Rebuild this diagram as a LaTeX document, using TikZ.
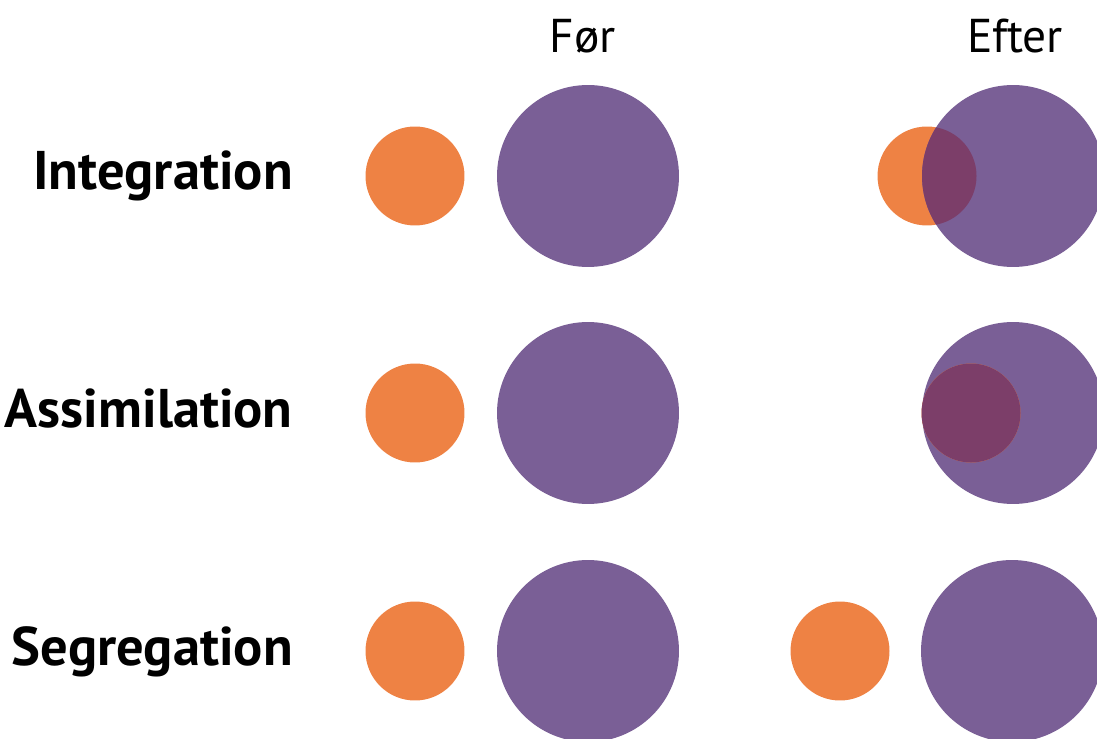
\documentclass[tikz,border=0pt]{standalone}
\usepackage{fontspec}
\setmainfont{PT Sans}
\usetikzlibrary{positioning}
\definecolor{orng}{HTML}{EE8244}
\definecolor{purp}{HTML}{7A5F96}
\definecolor{mixd}{HTML}{7C3E69}

\begin{document}
\begin{tikzpicture}[x=0.02cm, y=-0.02cm,
    small/.style={circle, fill=orng, minimum size=1.98cm, inner sep=0pt},
    big/.style={circle, fill=purp, minimum size=3.64cm, inner sep=0pt},
    lbl/.style={anchor=base east, inner sep=0pt, font=\fontsize{31}{31}\selectfont\bfseries},
    hdr/.style={anchor=base, font=\fontsize{27}{27}\selectfont}]
    \useasboundingbox (0,0) rectangle (1097,739);
    \clip (0,0) rectangle (1097,739);
    % column heads
    \node[hdr] (foer) at (583,53) {Før};
    \node[hdr] (efter) at (1015,53) {Efter};
    % row labels
    \node[lbl] (integ) at (293,190) {Integration};
    \node[lbl] (assim) at (293,427) {Assimilation};
    \node[lbl] (segr) at (293,665) {Segregation};
    % before
    \foreach \y/\n in {176/a, 413/b, 651/c} {
        \node[small] (o\n) at (415,\y) {};
        \node[big] (p\n) at (588,\y) {};
    }
    % after
    \node[small] (oa2) at (927,176) {};
    \node[big] (pa2) at (1013,176) {};
    \node[big] (pb2) at (1013,413) {};
    \node[small] (ob2) at (971,413) {};
    \node[small] (oc2) at (840,651) {};
    \node[big] (pc2) at (1012,651) {};
    % overlaps
    \begin{scope}
        \clip (oa2.center) circle (49.5);
        \fill[mixd] (pa2.center) circle (91);
    \end{scope}
    \fill[mixd] (ob2.center) circle (49.5);
\end{tikzpicture}
\end{document}
